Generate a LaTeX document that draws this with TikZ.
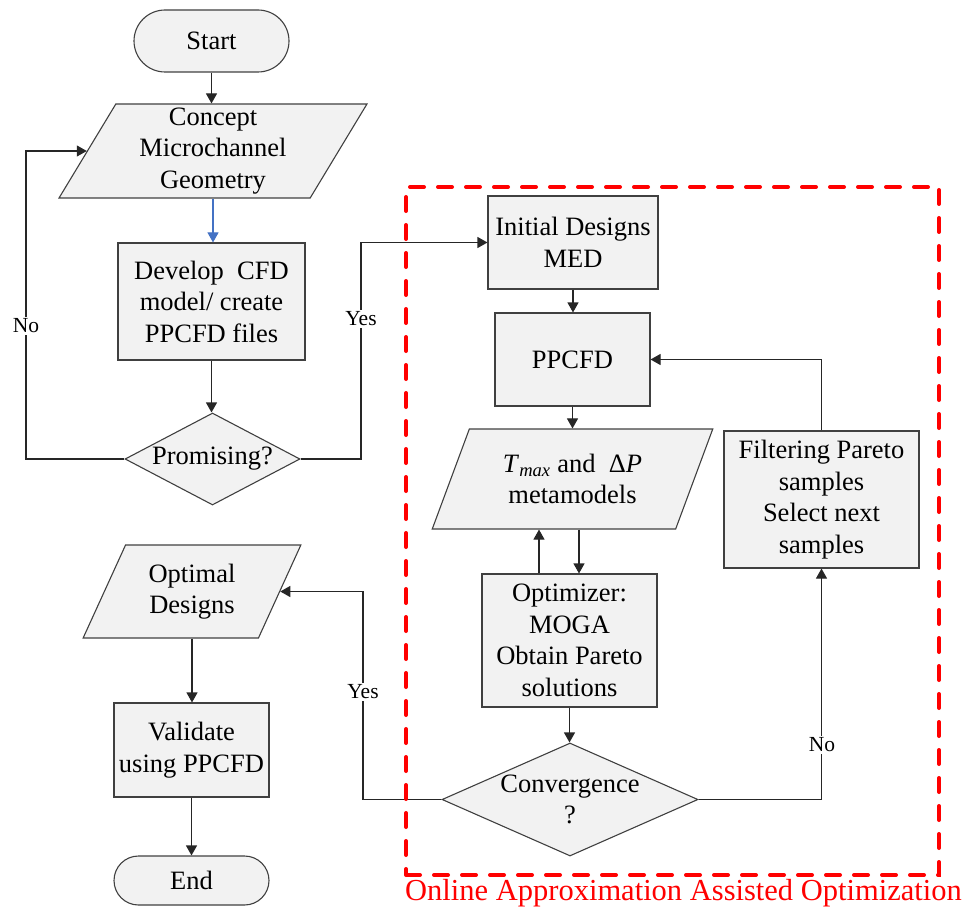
\documentclass[tikz,border=0pt]{standalone}
\usepackage{fontspec}
\setmainfont{Liberation Serif}
\usetikzlibrary{shapes.geometric,arrows.meta}
\definecolor{boxfill}{RGB}{242,242,242}
\definecolor{edge}{RGB}{64,64,64}
\definecolor{flowblue}{RGB}{68,114,196}
\definecolor{loopred}{RGB}{255,0,0}

\begin{document}
\begin{tikzpicture}[x=1pt,y=-1pt,
  every node/.style={font=\fontsize{26.5}{31.5}\selectfont, align=center, inner sep=0pt},
  base/.style={draw=edge, fill=boxfill, line width=1.1pt},
  proc/.style={base, rectangle},
  term/.style={base, rectangle, rounded corners=#1},
  io/.style={base, trapezium, trapezium left angle=63.5, trapezium right angle=116.5, trapezium stretches=true},
  decision/.style={base, diamond},
  link/.style={draw=black!85, line width=1.1pt},
  arr/.style={link, -{Triangle[length=10pt,width=11pt]}},
  lbl/.style={font=\fontsize{21.5}{24}\selectfont, fill=white, inner sep=1.5pt},
]
\useasboundingbox (0,0) rectangle (968,909);

% main flow, left column
\node[term=31pt, minimum width=155pt, minimum height=62pt] (start) at (211.5,41) {Start};
\node[io, minimum width=308pt, minimum height=94pt] (concept) at (213,151) {Concept\\Microchannel\\Geometry};
\node[proc, minimum width=187pt, minimum height=117pt] (develop) at (211.5,301.5) {Develop\ \ CFD\\model/ create\\PPCFD files};
\node[decision, aspect=1.9, minimum width=175pt, minimum height=92pt] (prom) at (212.5,459) {Promising?};

% optimization loop
\node[proc, minimum width=170pt, minimum height=93pt] (init) at (573,242.5) {Initial Designs\\MED};
\node[proc, minimum width=155pt, minimum height=93pt] (ppcfd) at (572.5,359.5) {PPCFD};
\node[io, minimum width=281pt, minimum height=100pt] (meta) at (572.5,479) {\textit{T}\textsubscript{\textit{max}} and\ \ Δ\textit{P}\\metamodels};
\node[proc, minimum width=175pt, minimum height=133pt] (opt) at (569.5,640.5) {Optimizer:\\MOGA\\Obtain Pareto\\solutions};
\node[decision, aspect=2.27, inner sep=-6pt, minimum width=256pt, minimum height=113pt] (conv) at (570,799.5) {Convergence\\?};
\node[proc, minimum width=195pt, minimum height=137pt] (filt) at (821.5,499.5) {Filtering Pareto\\samples\\Select next\\samples};

% final stage
\node[io, minimum width=218pt, minimum height=93pt] (optimal) at (192,591.5) {Optimal\\Designs};
\node[proc, minimum width=155pt, minimum height=94pt] (valid) at (191.5,750) {Validate\\using PPCFD};
\node[term=24.5pt, minimum width=155pt, minimum height=49pt] (end) at (191.5,880.5) {End};

% routing columns
\coordinate (noX) at (26,0);
\coordinate (yesX) at (361,0);
\coordinate (yesB) at (363,0);
\coordinate (upX) at (539,0);
\coordinate (dnX) at (579,0);

% connectors
\draw[arr] (start.south) -- (start.south |- concept.north);
\draw[arr, draw=flowblue] (concept.south) -- (concept.south |- develop.north);
\draw[arr] (develop.south) -- (develop.south |- prom.north);
\draw[arr] (prom.west) -| (noX |- concept.west) -- (concept.west);
\draw[arr] (prom.east) -| (yesX |- init.west) -- (init.west);
\draw[arr] (init.south) -- (init.south |- ppcfd.north);
\draw[arr] (ppcfd.south) -- (ppcfd.south |- meta.north);
\draw[arr] (dnX |- meta.south) -- (dnX |- opt.north);
\draw[arr] (upX |- opt.north) -- (upX |- meta.south);
\draw[arr] (opt.south) -- (opt.south |- conv.north);
\draw[arr] (conv.east) -| (filt.south);
\draw[arr] (filt.north) |- (ppcfd.east);
\draw[arr] (conv.west) -| (yesB |- optimal.east) -- (optimal.east);
\draw[arr] (optimal.south) -- (optimal.south |- valid.north);
\draw[arr] (valid.south) -- (valid.south |- end.north);

% branch labels
\node[lbl] (noA) at (26,326) {No};
\node[lbl] (yesA) at (361,319) {Yes};
\node[lbl] (noB) at (822,745) {No};
\node[lbl] (yesC) at (363,692) {Yes};

% dashed frame around the online approximation loop
\node[draw=loopred, line width=4pt, dash pattern=on 14pt off 14pt, line cap=round,
      minimum width=533pt, minimum height=688pt] (region) at (672.5,531) {};
\node[font=\fontsize{30.5}{34}\selectfont, text=loopred, anchor=base west] (caption) at (405,900) {Online Approximation Assisted Optimization};
\end{tikzpicture}
\end{document}
